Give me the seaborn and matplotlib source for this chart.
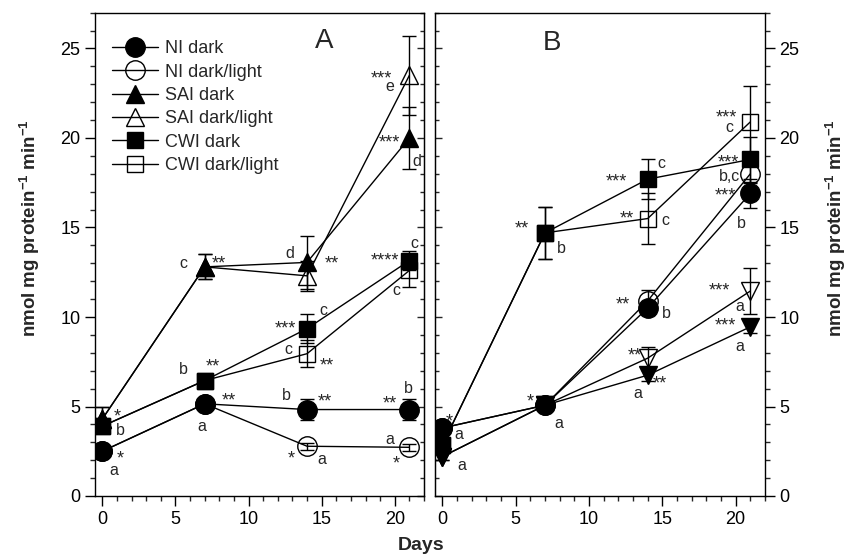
import matplotlib
matplotlib.use("Agg")
import matplotlib.pyplot as plt
import seaborn as sns
from matplotlib.ticker import MultipleLocator

sns.set_style("ticks")
plt.rcParams['font.family'] = ['Liberation Sans Narrow', 'Liberation Sans', 'DejaVu Sans']
plt.rcParams['mathtext.fontset'] = 'custom'
plt.rcParams['mathtext.rm'] = 'Liberation Sans'
plt.rcParams['mathtext.bf'] = 'Liberation Sans:bold'

days = [0, 7, 14, 21]
labels = ["NI dark", "NI dark/light", "SAI dark", "SAI dark/light", "CWI dark", "CWI dark/light"]

# Panel A values and errors
A_ni_dark = [2.5, 5.15, 4.83, 4.83]
A_ni_dark_err = [0.15, 0.2, 0.6, 0.6]
A_ni_dl = [2.5, 5.15, 2.78, 2.72]
A_ni_dl_err = [0.15, 0.2, 0.2, 0.2]
A_sai_dark = [4.3, 12.8, 13.05, 20.0]
A_sai_dark_err = [0.65, 0.7, 1.5, 1.75]
A_sai_dl = [4.3, 12.8, 12.3, 23.5]
A_sai_dl_err = [0.65, 0.7, 0.85, 2.2]
A_cwi_dark = [3.9, 6.45, 9.35, 13.15]
A_cwi_dark_err = [0.3, 0.3, 0.8, 0.55]
A_cwi_dl = [3.9, 6.45, 7.95, 12.6]
A_cwi_dl_err = [0.3, 0.3, 0.75, 0.9]

# Panel B values and errors
B_ni_dark = [3.8, 5.07, 10.5, 16.9]
B_ni_dark_err = [0.2, 0.2, 0.4, 0.8]
B_ni_dl = [3.8, 5.07, 10.9, 18.0]
B_ni_dl_err = [0.2, 0.2, 0.6, 0.5]
B_sai_dark = [2.2, 5.07, 6.75, 9.45]
B_sai_dark_err = [0.2, 0.2, 0.3, 0.35]
B_sai_dl = [2.2, 5.07, 7.7, 11.45]
B_sai_dl_err = [0.2, 0.2, 0.6, 1.3]
B_cwi_dark = [2.85, 14.7, 17.7, 18.8]
B_cwi_dark_err = [0.3, 1.45, 1.1, 1.25]
B_cwi_dl = [2.85, 14.7, 15.5, 20.9]
B_cwi_dl_err = [0.3, 1.45, 1.4, 2.0]

A_notes = [
    (19.1, 23.4, '***'), (19.65, 22.9, 'e'),
    (19.65, 19.8, '***'), (21.5, 18.7, 'd'),
    (5.55, 13.0, 'c'), (7.95, 13.05, '**'),
    (12.85, 13.55, 'd'), (15.7, 13.05, '**'),
    (19.3, 13.25, '****'), (21.35, 14.1, 'c'),
    (20.1, 11.5, 'c'),
    (15.1, 10.37, 'c'), (12.5, 9.43, '***'),
    (12.7, 8.18, 'c'), (15.35, 7.38, '**'),
    (5.56, 7.06, 'b'), (7.57, 7.29, '**'),
    (8.63, 5.43, '**'), (12.6, 5.63, 'b'), (15.2, 5.34, '**'),
    (19.65, 5.25, '**'), (20.9, 6.0, 'b'),
    (6.8, 3.87, 'a'),
    (1.0, 4.5, '*'), (1.25, 3.68, 'b'),
    (1.2, 2.18, '*'), (0.8, 1.45, 'a'),
    (12.95, 2.18, '*'), (15.0, 2.06, 'a'),
    (19.65, 3.18, 'a'), (20.1, 1.9, '*'),
]
B_notes = [
    (19.4, 21.2, '***'), (19.6, 20.6, 'c'),
    (19.5, 18.7, '***'), (19.6, 17.86, 'b,c'),
    (19.3, 16.87, '***'), (20.4, 15.2, 'b'),
    (14.95, 18.6, 'c'), (11.9, 17.66, '***'),
    (12.55, 15.57, '**'), (15.2, 15.4, 'c'),
    (5.4, 15.0, '**'), (8.1, 13.8, 'b'),
    (12.3, 10.77, '**'), (15.25, 10.19, 'b'),
    (18.9, 11.57, '***'), (20.3, 10.56, 'a'),
    (19.3, 9.6, '***'), (20.25, 8.37, 'a'),
    (13.1, 7.94, '**'), (14.85, 6.36, '**'), (13.3, 5.73, 'a'),
    (6.0, 5.38, '*'), (7.95, 4.05, 'a'),
    (0.45, 4.26, '*'), (1.13, 3.46, 'a'), (1.3, 1.73, 'a'),
]

fig = plt.figure(figsize=(8.53, 5.6), dpi=100)
axA = fig.add_axes([95/853, 64/560, 329/853, 483.3/560])
axB = fig.add_axes([435/853, 64/560, 330/853, 483.3/560])

msize = {'o': 14, 's': 12, '^': 13, 'v': 13}

def draw(ax, series, markers, legend):
    for (vals, err), lab, (mk, filled) in zip(series, labels, markers):
        ax.errorbar(days, vals, yerr=err, fmt='none', ecolor='black', elinewidth=1,
                    capsize=5, capthick=1, zorder=1.5)
        sns.lineplot(x=days, y=vals, ax=ax, color='black', linewidth=1, marker=mk,
                     markersize=msize[mk], markerfacecolor='black' if filled else 'none',
                     markeredgecolor='black', markeredgewidth=1, label=lab if legend else None,
                     legend=False, zorder=2)

seriesA = [(A_ni_dark, A_ni_dark_err), (A_ni_dl, A_ni_dl_err), (A_sai_dark, A_sai_dark_err),
           (A_sai_dl, A_sai_dl_err), (A_cwi_dark, A_cwi_dark_err), (A_cwi_dl, A_cwi_dl_err)]
seriesB = [(B_ni_dark, B_ni_dark_err), (B_ni_dl, B_ni_dl_err), (B_sai_dark, B_sai_dark_err),
           (B_sai_dl, B_sai_dl_err), (B_cwi_dark, B_cwi_dark_err), (B_cwi_dl, B_cwi_dl_err)]
markersA = [('o', True), ('o', False), ('^', True), ('^', False), ('s', True), ('s', False)]
markersB = [('o', True), ('o', False), ('v', True), ('v', False), ('s', True), ('s', False)]

draw(axA, seriesA, markersA, True)
draw(axB, seriesB, markersB, False)

for ax, notes in ((axA, A_notes), (axB, B_notes)):
    for x, y, t in notes:
        star = t.startswith('*')
        ax.text(x, y - (0.1 if star else 0), t, fontsize=13 if star else 11.5,
                ha='center', va='center', family=['Liberation Sans', 'DejaVu Sans'])

axA.text(15.2, 25.4, 'A', fontsize=20, ha='center', va='center', family=['Liberation Sans', 'DejaVu Sans'])
axB.text(7.5, 25.3, 'B', fontsize=20, ha='center', va='center', family=['Liberation Sans', 'DejaVu Sans'])

ylabel = r'nmol mg protein$^{\mathbf{-1}}$ min$^{\mathbf{-1}}$'
for ax in (axA, axB):
    ax.set_xlim(-0.5, 22)
    ax.set_ylim(0, 27)
    ax.set_xlabel('')
    ax.set_xticks([0, 5, 10, 15, 20])
    ax.xaxis.set_minor_locator(MultipleLocator(1))
    ax.set_yticks([0, 5, 10, 15, 20, 25])
    ax.yaxis.set_minor_locator(MultipleLocator(1))
    ax.tick_params(which='major', direction='out', length=7, width=1, labelsize=13, colors='black')
    ax.tick_params(which='minor', direction='out', length=3.5, width=1)
    for sp in ax.spines.values():
        sp.set_visible(True)
        sp.set_linewidth(1)
        sp.set_color('black')

axA.tick_params(axis='y', left=True, right=False, labelleft=True)
secA = axA.secondary_yaxis('right')
secA.set_yticks([0, 5, 10, 15, 20, 25])
secA.yaxis.set_minor_locator(MultipleLocator(1))
secA.tick_params(which='major', direction='in', length=5, width=1, labelright=False)
secA.tick_params(which='minor', direction='in', length=3, width=1)

axB.yaxis.tick_right()
axB.tick_params(axis='y', which='both', left=False, right=True, labelleft=False, labelright=True)
secB = axB.secondary_yaxis('left')
secB.set_yticks([0, 5, 10, 15, 20, 25])
secB.yaxis.set_minor_locator(MultipleLocator(1))
secB.tick_params(which='major', direction='in', length=5, width=1, labelleft=False)
secB.tick_params(which='minor', direction='in', length=3, width=1)

axA.set_ylabel(ylabel, fontsize=13.5, fontweight='bold')
axA.yaxis.set_label_coords(-0.16, 0.554)
axB.set_ylabel(ylabel, fontsize=13.5, fontweight='bold', rotation=90)
axB.yaxis.set_label_position('right')
axB.yaxis.set_label_coords(1.176, 0.554)

fig.text(421/853, (560-546)/560, 'Days', fontsize=14, fontweight='bold', ha='center', va='center')

axA.legend(loc='upper left', bbox_to_anchor=(0.02, 0.965), frameon=False, fontsize=13,
           handlelength=2.5, labelspacing=0.35, handletextpad=0.4, borderaxespad=0.2)

fig.savefig('out.png', dpi=100)
